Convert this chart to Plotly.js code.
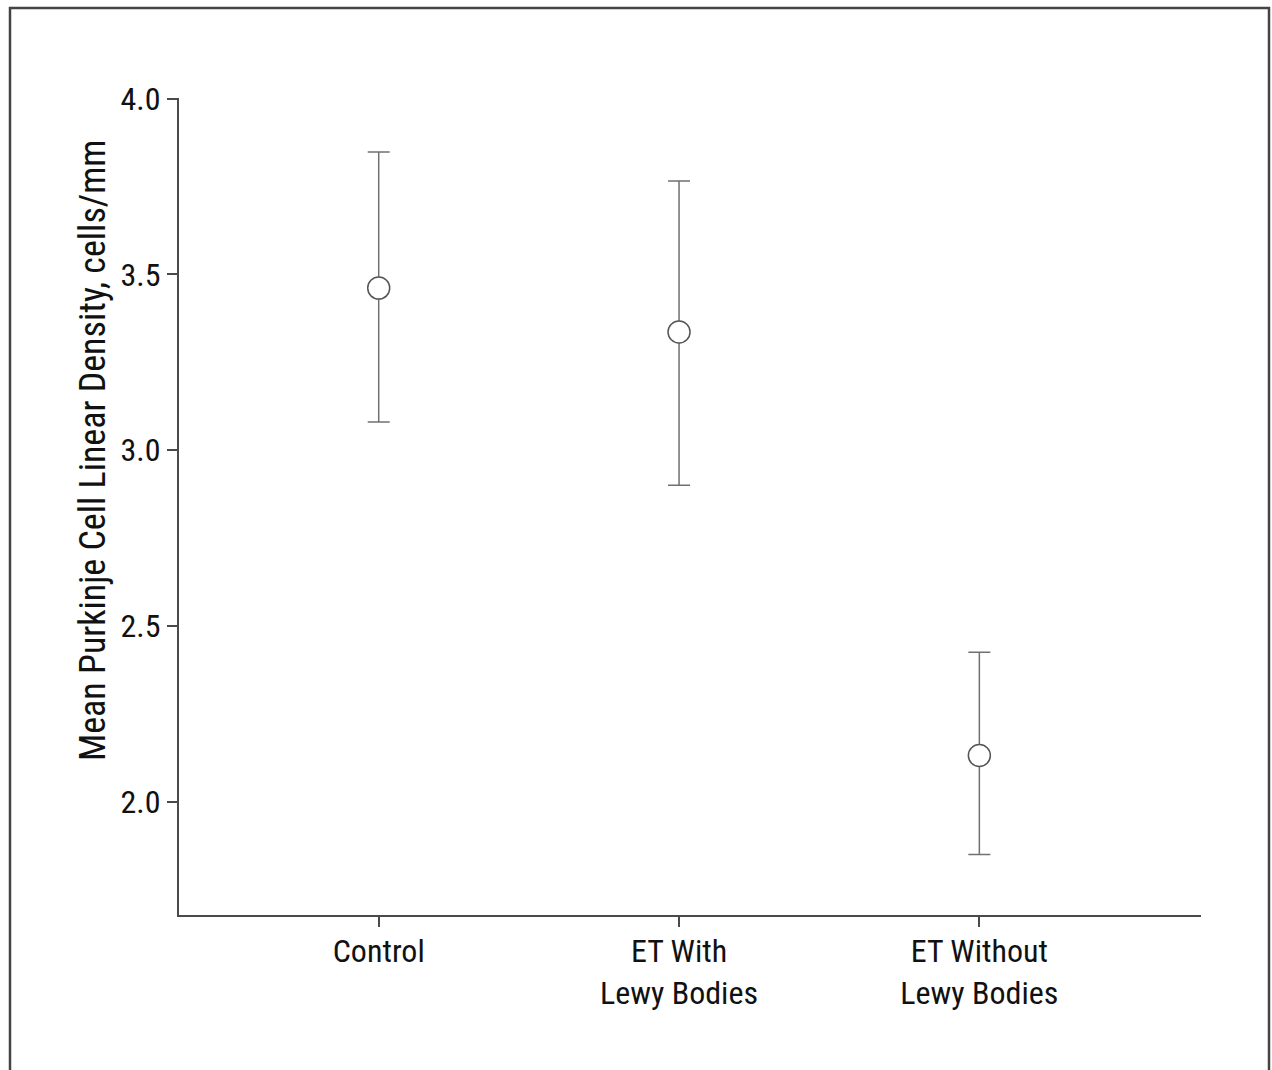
<!DOCTYPE html>
<html>
<head>
<meta charset="utf-8">
<script src="https://cdn.plot.ly/plotly-3.0.1.min.js"></script>
<style>
html,body{margin:0;padding:0;background:#fff;}
#chart{width:1272px;height:1070px;}
</style>
</head>
<body>
<div id="chart"></div>
<script>
const categories = ["Control", "ET With<br>Lewy Bodies", "ET Without<br>Lewy Bodies"];
const means = [3.461, 3.336, 2.131];
const upper = [3.848, 3.766, 2.425];
const lower = [3.080, 2.900, 1.849];
const yTickVals = [2.0, 2.5, 3.0, 3.5, 4.0];
const yTickText = ["2.0", "2.5", "3.0", "3.5", "4.0"];
const yTitle = "Mean Purkinje Cell Linear Density, cells/mm";

const FONT = "'Roboto Condensed', 'DejaVu Sans Condensed', sans-serif";
const W = 1272, H = 1070;
const L = 179, R = 71, T = 98, B = 155;
const pw = W - L - R, ph = H - T - B;
const px = x => (x - L) / pw;
const py = y => (H - B - y) / ph;

const xIdx = categories.map((c, i) => i);

const trace = {
  type: "scatter",
  mode: "markers",
  x: xIdx,
  y: means,
  marker: {symbol: "circle", size: 22, color: "#ffffff", line: {color: "#555555", width: 1.5}},
  error_y: {
    type: "data",
    symmetric: false,
    array: means.map((m, i) => upper[i] - m),
    arrayminus: means.map((m, i) => m - lower[i]),
    color: "#707070",
    thickness: 1.5,
    width: 11
  },
  hoverinfo: "skip",
  showlegend: false
};

const layout = {
  width: W, height: H,
  margin: {l: L, r: R, t: T, b: B},
  paper_bgcolor: "#ffffff",
  plot_bgcolor: "#ffffff",
  font: {family: FONT, color: "#111111", size: 32},
  xaxis: {
    range: [-0.665, 2.738],
    tickvals: xIdx,
    ticktext: categories,
    showgrid: false, zeroline: false,
    showline: true, linecolor: "#4a4a4a", linewidth: 2,
    ticks: "outside", ticklen: 10, tickwidth: 2, tickcolor: "#4a4a4a",
    ticklabelstandoff: -3,
    tickfont: {family: FONT, size: 32, color: "#111111"}
  },
  yaxis: {
    range: [1.677, 4.002],
    tickvals: yTickVals,
    ticktext: yTickText,
    showgrid: false, zeroline: false,
    showline: true, linecolor: "#4a4a4a", linewidth: 2,
    ticks: "outside", ticklen: 10, tickwidth: 2, tickcolor: "#4a4a4a",
    tickfont: {family: FONT, size: 32, color: "#111111"}
  },
  annotations: [{
    text: yTitle,
    xref: "paper", yref: "paper",
    x: px(93), y: py(451),
    xanchor: "center", yanchor: "middle",
    textangle: -90,
    showarrow: false,
    font: {family: FONT, size: 36, color: "#111111"}
  }],
  shapes: [{
    type: "rect", xref: "paper", yref: "paper",
    x0: px(10), x1: px(1269), y0: py(1090), y1: py(8),
    line: {color: "#444444", width: 2.5},
    fillcolor: "rgba(0,0,0,0)",
    layer: "below"
  }]
};

Plotly.newPlot("chart", [trace], layout, {staticPlot: true, displayModeBar: false});
</script>
</body>
</html>
